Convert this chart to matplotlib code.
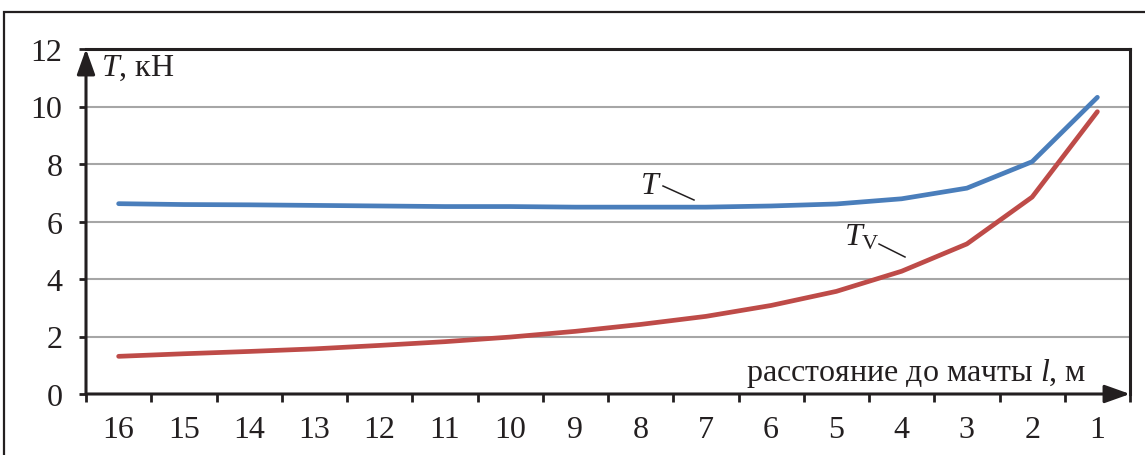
import matplotlib
matplotlib.use("Agg")
import matplotlib.pyplot as plt
from matplotlib.patches import Rectangle
from matplotlib.lines import Line2D
from matplotlib.ticker import FixedLocator, NullFormatter

plt.rcParams['font.family'] = ['Liberation Serif', 'DejaVu Serif']
plt.rcParams['mathtext.fontset'] = 'custom'
plt.rcParams['mathtext.it'] = 'Liberation Serif:italic'
plt.rcParams['mathtext.rm'] = 'Liberation Serif'

# ---- data ----
categories = ['16', '15', '14', '13', '12', '11', '10', '9', '8', '7', '6', '5', '4', '3', '2', '1']
T_values = [6.62, 6.59, 6.58, 6.56, 6.54, 6.52, 6.52, 6.50, 6.50, 6.50, 6.54, 6.61, 6.79, 7.16, 8.08, 10.32]
Tv_values = [1.31, 1.40, 1.48, 1.57, 1.69, 1.82, 1.98, 2.18, 2.42, 2.70, 3.08, 3.57, 4.27, 5.22, 6.85, 9.82]
y_ticks = [0, 2, 4, 6, 8, 10, 12]

ink = '#231F20'
blue = '#4A7EBB'
red = '#BE4B48'
grid = '#A6A6A6'
FS = 23

W, H = 1145, 456
fig = plt.figure(figsize=(W / 100, H / 100), dpi=100)
ax = fig.add_axes([86 / W, 1 - 395 / H, (1130 - 86) / W, (395 - 50) / H])

x = list(range(len(categories)))
ax.plot(x, T_values, color=blue, lw=3.4, solid_capstyle='round', solid_joinstyle='round', zorder=3)
ax.plot(x, Tv_values, color=red, lw=3.4, solid_capstyle='round', solid_joinstyle='round', zorder=3)

ax.set_xlim(-0.5, len(categories) - 0.5)
ax.set_ylim(0, 12)

# y axis
ax.set_yticks(y_ticks)
ax.set_yticklabels([str(v) for v in y_ticks])
for v in y_ticks[1:-1]:
    ax.axhline(v, color=grid, lw=1.5, zorder=1)

# x axis: ticks at boundaries, labels centered
ax.xaxis.set_major_locator(FixedLocator([i - 0.5 for i in range(len(categories) + 1)]))
ax.xaxis.set_major_formatter(NullFormatter())
ax.xaxis.set_minor_locator(FixedLocator(x))
ax.set_xticklabels(categories, minor=True)

ax.tick_params(axis='y', which='major', direction='out', length=5, width=2, color=ink,
               labelsize=FS, labelcolor=ink, pad=12)
ax.tick_params(axis='x', which='major', direction='out', length=6, width=2, color=ink)
ax.tick_params(axis='x', which='minor', length=0, labelsize=FS, labelcolor=ink, pad=15)

for side in ['left', 'bottom']:
    ax.spines[side].set_visible(False)
for side in ['top', 'right']:
    ax.spines[side].set_color(ink)
    ax.spines[side].set_linewidth(2.2)

# arrow axes
ax.annotate('', xy=(0, 1.0), xytext=(0, 0), xycoords='axes fraction',
            arrowprops=dict(arrowstyle='-|>,head_length=0.7,head_width=0.25', mutation_scale=22,
                            lw=2.2, color=ink, shrinkA=0, shrinkB=0), annotation_clip=False)
ax.annotate('', xy=(1.0, 0), xytext=(0, 0), xycoords='axes fraction',
            arrowprops=dict(arrowstyle='-|>,head_length=0.7,head_width=0.25', mutation_scale=22,
                            lw=2.2, color=ink, shrinkA=0, shrinkB=0), annotation_clip=False)

# axis labels
fig.text(101 / W, 1 - 68 / H, '$T$, кН', fontsize=FS, color=ink, ha='left', va='center')
fig.text(1086 / W, 1 - 373 / H, 'расстояние до мачты $l$, м', fontsize=FS, color=ink,
         ha='right', va='center')

# curve labels with leader lines
fig.text(651 / W, 1 - 187 / H, '$T$', fontsize=FS, color=ink, ha='center', va='center')
fig.add_artist(Line2D([663 / W, 694 / W], [1 - 187 / H, 1 - 201 / H], color=ink, lw=1.1,
                      transform=fig.transFigure))
fig.text(844 / W, 1 - 238 / H, '$T_{\\mathrm{V}}$', fontsize=FS, color=ink, ha='left', va='center')
fig.add_artist(Line2D([879 / W, 905 / W], [1 - 245 / H, 1 - 258 / H], color=ink, lw=1.1,
                      transform=fig.transFigure))

# outer frame
fig.add_artist(Rectangle((4 / W, -0.05), 1.2, 1.05 - 13 / H, transform=fig.transFigure,
                         fill=False, edgecolor=ink, lw=1.6))

fig.savefig('out.png', dpi=100)
